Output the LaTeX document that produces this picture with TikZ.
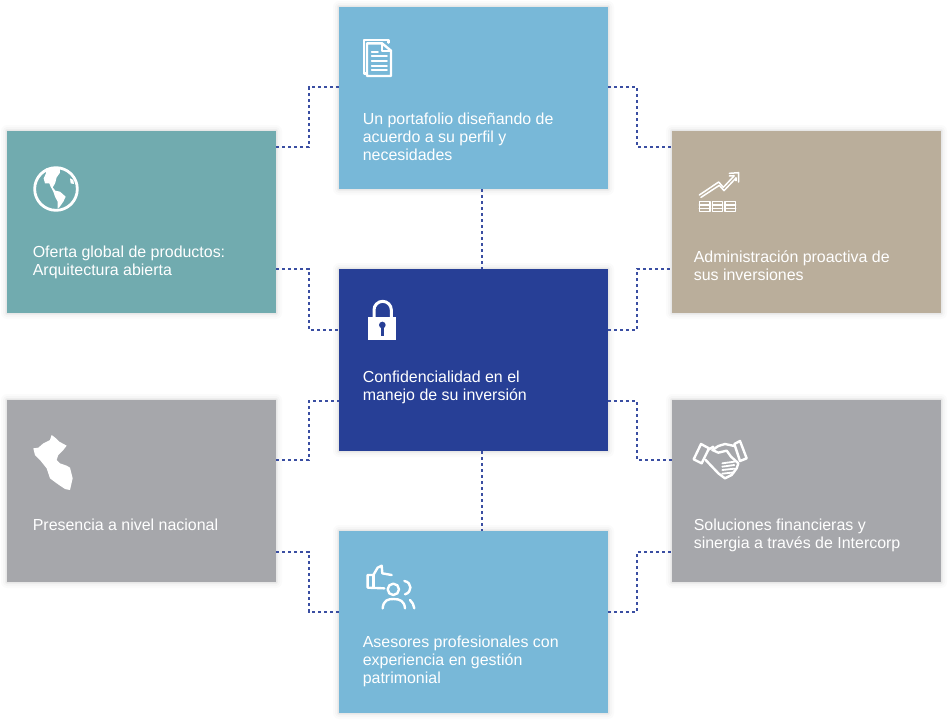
\documentclass[tikz,border=0pt]{standalone}
\usepackage{fontspec}
\usetikzlibrary{backgrounds}
\setmainfont{Liberation Sans}
\definecolor{cielo}{HTML}{78B8D8}
\definecolor{verdoso}{HTML}{71ABAF}
\definecolor{arena}{HTML}{BAAE9B}
\definecolor{marino}{HTML}{273F96}
\definecolor{plomo}{HTML}{A6A7AB}
\definecolor{punteado}{HTML}{3A4EA2}
\tikzset{
  card/.style={rectangle, fill=#1, inner sep=0pt, outer sep=0pt, minimum width=269pt, minimum height=182pt},
  cardtext/.style={anchor=north west, inner sep=0pt, align=left, text=white, font=\fontsize{15.95}{18}\selectfont},
  dotline/.style={draw=punteado, line width=2.9pt, dash pattern=on 3.2pt off 2.8pt},
  zoomed/.style 2 args={shift={(#1,#2)}, x=.3333pt, y=-.3333pt},
  iconline/.style={draw=white, line width=#1, line join=round, line cap=round},
  iconline/.default=2.4pt
}
\begin{document}
\begin{tikzpicture}[x=1pt,y=-1pt]
  \useasboundingbox (0,0) rectangle (949,720);

  \node[card=cielo] (boxtop) at (473.5,98) {};
  \node[card=verdoso] (boxglobal) at (141.5,222) {};
  \node[card=arena] (boxgrowth) at (806.5,222) {};
  \node[card=marino] (boxlock) at (473.5,360) {};
  \node[card=plomo] (boxperu) at (141.5,491) {};
  \node[card=plomo] (boxhands) at (806.5,491) {};
  \node[card=cielo] (boxpeople) at (473.5,622) {};

  % sombras
  \begin{scope}[on background layer]
    \foreach \n in {boxtop, boxglobal, boxgrowth, boxlock, boxperu, boxhands, boxpeople}
      \foreach \d/\o in {6/.015, 4/.02, 2/.03, 1/.03}
        \fill[black, opacity=\o, rounded corners=\d pt] ([shift={(-\d,-\d)}]\n.north west) rectangle ([shift={(\d,\d)}]\n.south east);
  \end{scope}

  \node[cardtext] (txttop) at (362.6,112.8) {Un portafolio diseñando de\\acuerdo a su perfil y\\necesidades};
  \node[cardtext] (txtglobal) at (32.6,245.8) {Oferta global de productos:\\Arquitectura abierta};
  \node[cardtext] (txtgrowth) at (693.6,250.8) {Administración proactiva de\\sus inversiones};
  \node[cardtext] (txtlock) at (362.6,370.8) {Confidencialidad en el\\manejo de su inversión};
  \node[cardtext] (txtperu) at (32.6,518.8) {Presencia a nivel nacional};
  \node[cardtext] (txthands) at (693.6,518.8) {Soluciones financieras y\\sinergia a través de Intercorp};
  \node[cardtext] (txtpeople) at (362.6,635.8) {Asesores profesionales con\\experiencia en gestión\\patrimonial};

  % conectores
  \foreach \from/\to/\ya/\yb/\xm in {boxglobal.east/boxtop.west/147/87/309, boxglobal.east/boxlock.west/269/330/309,
      boxperu.east/boxlock.west/460/401/309, boxperu.east/boxpeople.west/552/612/309,
      boxtop.east/boxgrowth.west/87/147/637, boxlock.east/boxgrowth.west/330/269/637,
      boxlock.east/boxhands.west/401/460/637, boxpeople.east/boxhands.west/612/552/637}
    \draw[dotline] (\from |- 0,\ya) -- (\xm,\ya) |- (\to |- 0,\yb);
  \draw[dotline] (482,0 |- boxtop.south) -- (482,0 |- boxlock.north);
  \draw[dotline] (482,0 |- boxlock.south) -- (482,0 |- boxpeople.north);

  % documento
  \begin{scope}[zoomed={340}{10}]
    \draw[iconline] (80,190) -- (72,190) -- (72,90) -- (145,90) -- (145,98);
    \draw[iconline] (81,100) -- (126,100) -- (153,122) -- (153,198) -- (81,198) -- cycle;
    \draw[iconline] (126,100) -- (126,123) -- (153,123);
    \draw[iconline=1.7pt] (95,125) -- (114,125);
    \foreach \y in {139,153,167,181}
      \draw[iconline=1.7pt] (95,\y) -- (141,\y);
  \end{scope}

  % globo
  \begin{scope}[zoomed={10}{150}]
    \draw[iconline=2.8pt] (138,117) circle (64);
    \fill[white] (108,55) -- (150,55) -- (150,68) -- (140,82) -- (136,98) -- (132,106) -- (128,112) -- (136,122)
      -- (150,125) -- (167,140) -- (160,155) -- (148,172) -- (143,175) -- (143,155) -- (135,140) -- (130,125)
      -- (122,110) -- (118,100) -- (105,100) -- (101,85) -- (108,70) -- cycle;
    \fill[white] (180,85) -- (190,90) -- (192,102) -- (182,100) -- cycle;
  \end{scope}

  % grafico
  \begin{scope}[zoomed={680}{160}]
    \draw[iconline=1.5pt] (58,105) -- (116,66) -- (130,82) -- (162,48);
    \draw[iconline=1.5pt] (63,112) -- (118,76) -- (132,92) -- (168,54);
    \draw[iconline=1.5pt] (148,40) -- (176,38) -- (176,66);
    \draw[iconline=1.5pt] (148,48) -- (162,47);
    \draw[iconline=1.5pt] (168,54) -- (168,62);
    \foreach \xa/\xb in {58/90, 97/128, 135/167} {
      \draw[iconline=1.6pt] (\xa,124) rectangle (\xb,155);
      \draw[iconline=1.5pt] (\xa,135) -- (\xb,135);
      \draw[iconline=1.5pt] (\xa,145) -- (\xb,145);
    }
  \end{scope}

  % candado
  \begin{scope}[zoomed={350}{290}]
    \draw[white, line width=3pt] (72,82) -- (72,60) arc[start angle=180, end angle=0, x radius=26, y radius=-26] -- (124,82);
    \fill[white] (55,82) rectangle (138,150);
    \fill[marino] (97,105) circle (10);
    \fill[marino] (93,105) -- (101,105) -- (101,137) -- (93,137) -- cycle;
  \end{scope}

  % mapa
  \begin{scope}[zoomed={20}{425}]
    \fill[white] (40,70) -- (55,68) -- (70,55) -- (90,45) -- (95,30) -- (108,40) -- (118,50) -- (140,62) -- (130,75)
      -- (115,90) -- (110,105) -- (120,115) -- (140,122) -- (150,128) -- (158,160) -- (150,195) -- (135,192)
      -- (110,175) -- (90,160) -- (80,130) -- (60,105) -- (45,90) -- cycle;
  \end{scope}

  % manos
  \begin{scope}[zoomed={685}{430}]
    \draw[iconline] (48,42) -- (72,55) -- (50,100) -- (26,88) -- cycle;
    \draw[iconline] (148,42) -- (165,33) -- (185,85) -- (165,93) -- cycle;
    \draw[iconline] (148,48) -- (120,42) -- (100,48) -- (82,60) -- (100,68) -- (125,62) -- (138,80) -- (160,100);
    \draw[iconline] (72,58) -- (85,50);
    \draw[iconline] (62,90) -- (100,130) -- (120,145) -- (140,135) -- (155,115) -- (160,100);
    \foreach \ya/\yb in {100/95, 110/105, 120/116, 131/127}
      \draw[iconline=1.8pt] (112,\ya) -- (148,\yb);
  \end{scope}

  % asesores
  \begin{scope}[zoomed={355}{555}]
    \draw[iconline] (55,60) -- (38,60) -- (38,98) -- (88,100);
    \draw[iconline] (55,60) -- (55,98);
    \draw[iconline] (55,60) -- (68,38) -- (80,32) -- (82,55) -- (110,60);
    \draw[iconline] (115,103) circle (17);
    \draw[iconline] (83,160) .. controls (85,135) and (100,132) .. (115,132) .. controls (135,132) and (148,138) .. (150,160);
    \draw[iconline] (148,78) .. controls (172,82) and (172,112) .. (150,118);
    \draw[iconline] (165,135) .. controls (172,140) and (176,150) .. (178,160);
  \end{scope}
\end{tikzpicture}
\end{document}
